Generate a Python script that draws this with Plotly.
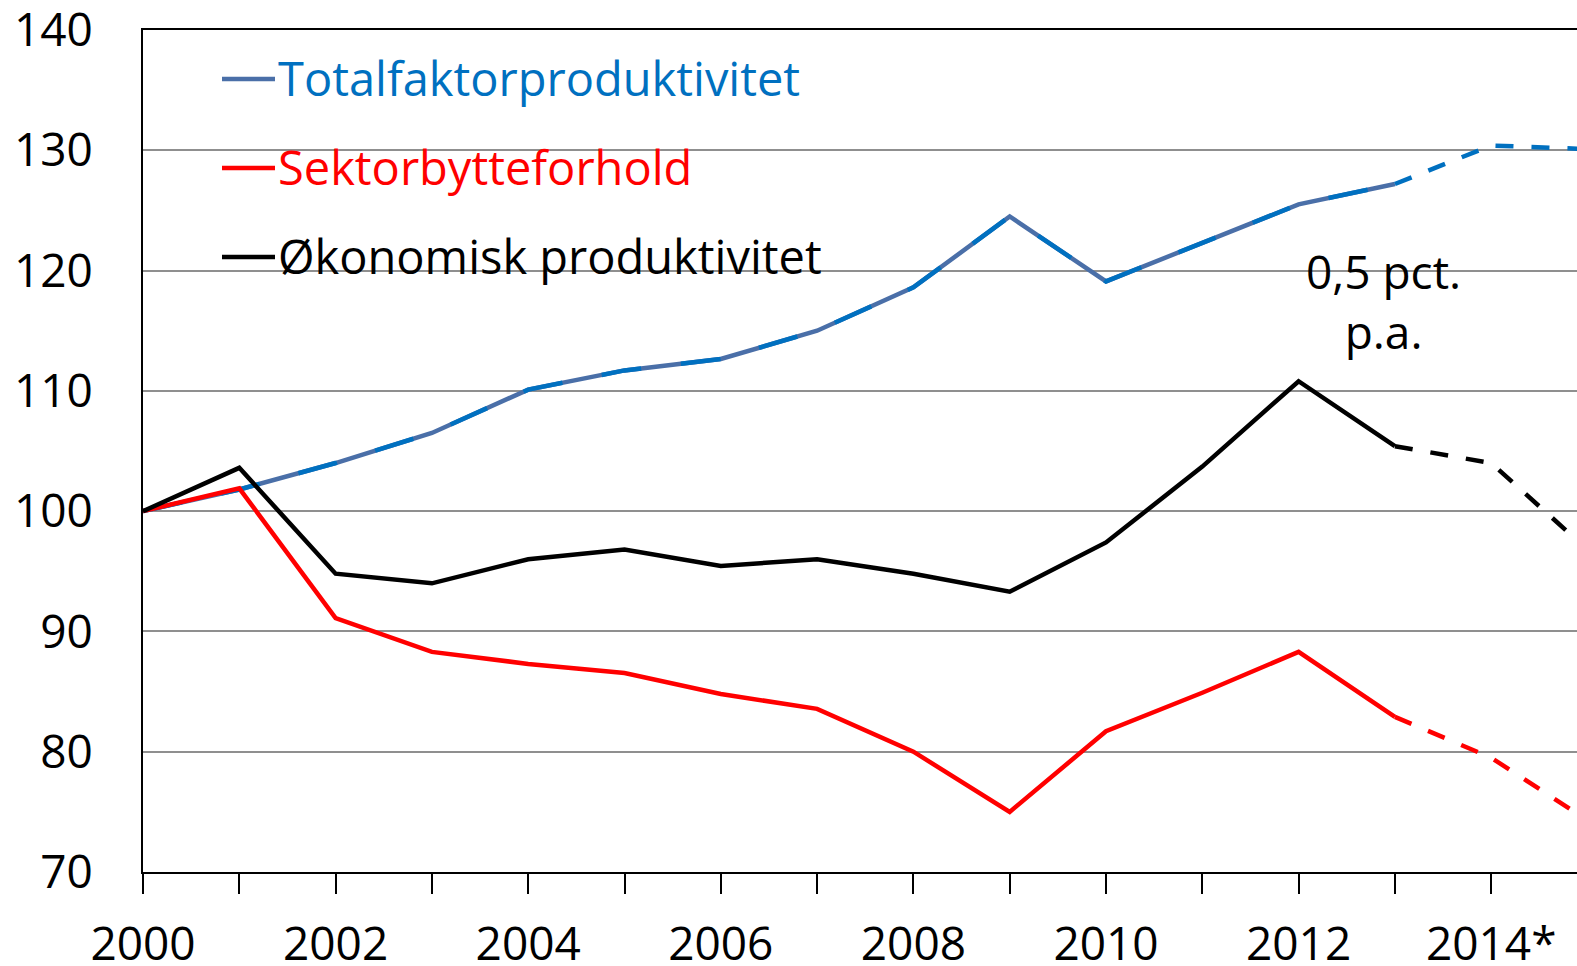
import plotly.graph_objects as go

years = list(range(2000, 2016))
tick_years = list(range(2000, 2016))
tick_text = ["2000", "", "2002", "", "2004", "", "2006", "", "2008", "", "2010", "", "2012", "", "2014*", ""]

tfp = [100.0, 101.8, 104.0, 106.5, 110.1, 111.7, 112.65, 115.0, 118.6, 124.5, 119.1, 122.3, 125.5, 127.2, 130.4, 130.1]
sbf = [100.0, 101.9, 91.1, 88.3, 87.3, 86.55, 84.8, 83.56, 80.0, 75.0, 81.7, 84.9, 88.3, 82.9, 79.5, 74.3]
okp = [100.0, 103.6, 94.8, 94.0, 96.0, 96.8, 95.45, 96.0, 94.8, 93.3, 97.4, 103.7, 110.8, 105.4, 104.0, 96.8]

names = ["Totalfaktorproduktivitet", "Sektorbytteforhold", "Økonomisk produktivitet"]
text_colors = ["#0070C0", "#FF0000", "#000000"]
legend_line_colors = ["#4A6FA8", "#FF0000", "#000000"]
hist_n = 14  # 2000-2013 observed, 2013 onward forecast

FONT = "Open Sans"
FS = 46
W = 4.5

fig = go.Figure()

# Totalfaktorproduktivitet
fig.add_trace(go.Scatter(x=years[:hist_n], y=tfp[:hist_n], mode="lines",
                         line=dict(color="#4A6FA8", width=W), showlegend=False))
fig.add_trace(go.Scatter(x=years[:hist_n], y=tfp[:hist_n], mode="lines",
                         line=dict(color="#0070C0", width=W, dash="40px,40px"), showlegend=False))
fig.add_trace(go.Scatter(x=years[hist_n - 1:], y=tfp[hist_n - 1:], mode="lines",
                         line=dict(color="#0070C0", width=W, dash="18px,18px"), showlegend=False))
# Sektorbytteforhold
fig.add_trace(go.Scatter(x=years[:hist_n], y=sbf[:hist_n], mode="lines",
                         line=dict(color="#FF0000", width=W), showlegend=False))
fig.add_trace(go.Scatter(x=years[hist_n - 1:], y=sbf[hist_n - 1:], mode="lines",
                         line=dict(color="#FF0000", width=W, dash="18px,18px"), showlegend=False))
# Økonomisk produktivitet
fig.add_trace(go.Scatter(x=years[:hist_n], y=okp[:hist_n], mode="lines",
                         line=dict(color="#000000", width=W), showlegend=False))
fig.add_trace(go.Scatter(x=years[hist_n - 1:], y=okp[hist_n - 1:], mode="lines",
                         line=dict(color="#000000", width=W, dash="18px,18px"), showlegend=False))

# Plot area geometry in pixels
L, T, B, R = 143, 30, 872, 1577
plot_h = B - T
plot_w = R - L

def py(pix):
    return 1 - (pix - T) / plot_h

def px(pix):
    return (pix - L) / plot_w

# Manual legend: white box hiding gridlines, short lines, coloured labels
shapes = [dict(type="rect", xref="paper", yref="paper", x0=px(160), x1=px(875), y0=py(292), y1=py(36),
               fillcolor="white", line=dict(width=0), layer="between")]
rows_y = [79, 168, 257]
annotations = []
for i in range(3):
    shapes.append(dict(type="line", xref="paper", yref="paper", x0=px(222), x1=px(275),
                       y0=py(rows_y[i]), y1=py(rows_y[i]),
                       line=dict(color=legend_line_colors[i], width=4.5), layer="above"))
    annotations.append(dict(xref="paper", yref="paper", x=px(276), y=py(rows_y[i] - 1),
                            text=names[i], showarrow=False, xanchor="left", yanchor="middle",
                            font=dict(family=FONT, size=47, color=text_colors[i])))

annotations.append(dict(x=2012.88, y=117.5, xref="x", yref="y", text="0,5 pct.<br>p.a.",
                        showarrow=False, xanchor="center", yanchor="middle",
                        font=dict(family=FONT, size=FS, color="black")))

fig.update_layout(
    width=1577, height=966,
    margin=dict(l=L, r=0, t=T, b=966 - B),
    paper_bgcolor="white", plot_bgcolor="white",
    shapes=shapes, annotations=annotations,
    showlegend=False,
    font=dict(family=FONT, size=FS, color="black"),
)
fig.update_xaxes(range=[2000, 2000 + plot_w / 96.3], tickvals=tick_years, ticktext=tick_text,
                 ticks="outside", ticklen=20, tickwidth=2, tickcolor="black",
                 showline=True, linecolor="black", linewidth=2, mirror=True,
                 showgrid=False, zeroline=False, ticklabelstandoff=11,
                 ticklabeloverflow="allow", automargin=False,
                 tickfont=dict(family=FONT, size=FS, color="black"))
fig.update_yaxes(range=[70, 140], tickvals=[70, 80, 90, 100, 110, 120, 130, 140],
                 ticks="", showline=True, linecolor="black", linewidth=2,
                 showgrid=True, gridcolor="#8F8F8F", gridwidth=2, zeroline=False,
                 ticklabelstandoff=39, ticklabeloverflow="allow", automargin=False,
                 tickfont=dict(family=FONT, size=FS, color="black"))

fig.write_html("out.html", config={"displayModeBar": False},
               post_script="document.body.style.margin='0';document.body.style.overflow='hidden';")
